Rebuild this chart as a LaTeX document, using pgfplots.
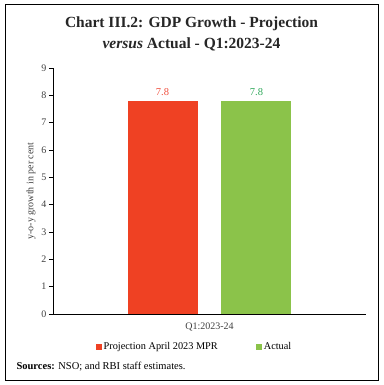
\documentclass[border=0pt]{standalone}
\usepackage{pgfplots}
\pgfplotsset{compat=1.18}
\usepackage{fontspec}
\setmainfont{Liberation Serif}
\definecolor{projred}{HTML}{EF4123}
\definecolor{actgreen}{HTML}{8BC34A}
\definecolor{lblred}{HTML}{F0503F}
\definecolor{lblgreen}{HTML}{2FA85A}
\begin{document}
\begin{tikzpicture}
\path[use as bounding box] (0pt,0pt) rectangle (383pt,-385pt);
\draw[line width=1pt] (5pt,-5pt) rectangle (378pt,-380pt);
\node[align=center,font=\fontsize{15.5}{20.5}\selectfont\bfseries, text=black!85] at (191.5pt,-34pt) {Chart III.2: GDP Growth - Projection\\\textit{versus} Actual - Q1:2023-24};
\node[anchor=west,font=\fontsize{10.5}{12}\selectfont] at (13pt,-367pt) {\textbf{Sources:} NSO; and RBI staff estimates.};
\begin{axis}[
  at={(53pt,-314pt)}, anchor=south west,
  scale only axis, width=313pt, height=246pt,
  xmin=-1, xmax=1, ymin=0, ymax=9,
  axis x line=bottom, axis y line=left,
  axis line style={-, line width=0.6pt},
  ytick={0,1,...,9},
  xtick={0}, xticklabels={Q1:2023-24},
  extra x ticks={-1,1}, extra x tick labels={},
  extra x tick style={major tick length=4pt, tick style={black, line width=0.6pt}},
  major x tick style={draw=none},
  tick align=outside,
  major tick length=4pt,
  tick style={black, line width=0.6pt},
  /pgf/number format/assume math mode=true,
  ticklabel style={font=\fontsize{10}{12}\selectfont, text=black!75},
  yticklabel style={xshift=1pt},
  xticklabel style={yshift=-1pt},
  ylabel={y-o-y growth in per cent},
  ylabel style={font=\fontsize{10}{12}\selectfont, text=black!75, yshift=-1pt},
  ybar, bar width=0.447, bar shift=0,
  legend style={at={(0.452,-0.134)}, anchor=center, draw=none, legend columns=2,
    font=\fontsize{10.3}{12}\selectfont, /tikz/every even column/.append style={column sep=36pt},
    inner sep=0pt},
  legend image code/.code={\fill[#1] (0pt,-3pt) rectangle (6pt,3pt);},
  legend cell align=left,
  nodes near coords, nodes near coords align={vertical},
  every node near coord/.append style={font=\fontsize{10.5}{12}\selectfont, yshift=2pt},
]
\addplot[fill=projred, draw=none, nodes near coords style={text=lblred}] coordinates {(-0.30,7.8)};
\addlegendentry{Projection April 2023 MPR}
\addplot[fill=actgreen, draw=none, nodes near coords style={text=lblgreen}] coordinates {(0.30,7.8)};
\addlegendentry{Actual}
\end{axis}
\end{tikzpicture}
\end{document}
